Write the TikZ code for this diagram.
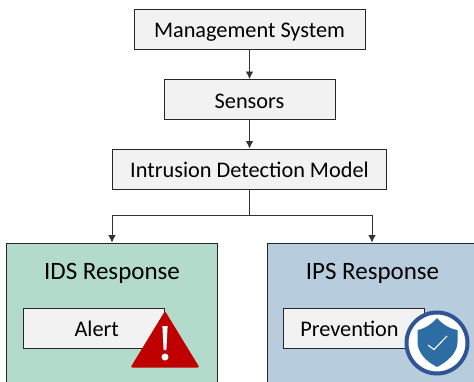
\documentclass[tikz,border=0pt]{standalone}
\usepackage{fontspec}
\setmainfont{Carlito}
\usepackage{tikz}
\usetikzlibrary{arrows.meta}
\definecolor{boxgray}{HTML}{F2F2F2}
\definecolor{idsgreen}{HTML}{B3DBCB}
\definecolor{ipsblue}{HTML}{B7CDDD}
\definecolor{warnred}{HTML}{C00000}
\definecolor{ringblue}{HTML}{2F5597}
\definecolor{shieldblue}{HTML}{2E6DA4}
\tikzset{
    stepbox/.style={draw=black!85, line width=0.9pt, fill=boxgray, font=\fontsize{22.3}{26}\selectfont,
        minimum height=40pt, inner sep=0pt, text height=17pt, text depth=0pt},
    panel/.style={draw=black!85, line width=0.9pt, minimum height=170pt, inner sep=0pt},
    paneltitle/.style={font=\fontsize{25}{29}\selectfont, inner sep=0pt, text height=17pt, text depth=0pt},
}
\begin{document}
\begin{tikzpicture}[->, >={Latex[length=7.5pt,width=7.5pt]}, x=1pt, y=-1pt, line width=0.8pt, black!80]
    \useasboundingbox (0,0) rectangle (474,381);
    \clip (0,0) rectangle (474,381);

    \node[stepbox, minimum width=231pt, text=black] (mgmt) at (249.5,29) {Management System};
    \node[stepbox, minimum width=171pt, text=black] (sensors) at (249.5,99.5) {Sensors};
    \node[stepbox, minimum width=274pt, text=black] (model) at (249.5,169) {Intrusion Detection Model};

    \node[panel, fill=idsgreen, minimum width=211pt] (ids) at (112,328) {};
    \node[panel, fill=ipsblue, minimum width=209pt] (ips) at (372,328) {};
    \node[paneltitle, text=black] (idstitle) at (112,271) {IDS Response};
    \node[paneltitle, text=black] (ipstitle) at (372.5,271) {IPS Response};

    \node[stepbox, minimum width=141.5pt, text=black] (alert) at (93.75,328) {\hspace*{6pt}Alert};
    \node[stepbox, minimum width=141pt, text=black] (prev) at (353.5,328) {\hspace*{-8pt}Prevention};

    \draw (mgmt) to (sensors);
    \draw (sensors) to (model);
    \coordinate (split) at (249.5,215);
    \draw[-] (model) to (split);
    \draw (split) -| (ids.north);
    \draw (split) -| (ips.north);

    % warning sign
    \fill[warnred, rounded corners=2pt] (165,311) -- (199.5,367.5) -- (130.5,367.5) -- cycle;
    \fill[white] (162.4,326) -- (167.6,326) -- (166.4,350) -- (163.6,350) -- cycle;
    \fill[white] (165,357) circle (3.5);

    % shield
    \node[circle, draw=ringblue, line width=4pt, fill=white, minimum size=61pt, inner sep=0pt] (guard) at (437,343) {};
    \fill[shieldblue] (437,318) .. controls (442,324) and (450,329) .. (457.5,330)
        -- (457.5,342) .. controls (457.5,353) and (447,362) .. (437,367)
        .. controls (427,362) and (417.5,353) .. (417.5,342) -- (417.5,330)
        .. controls (424,329) and (432,324) .. (437,318) -- cycle;
    \draw[-, white, line width=1.1pt] (428,345) -- (434,349.5) -- (447,336);
\end{tikzpicture}
\end{document}
